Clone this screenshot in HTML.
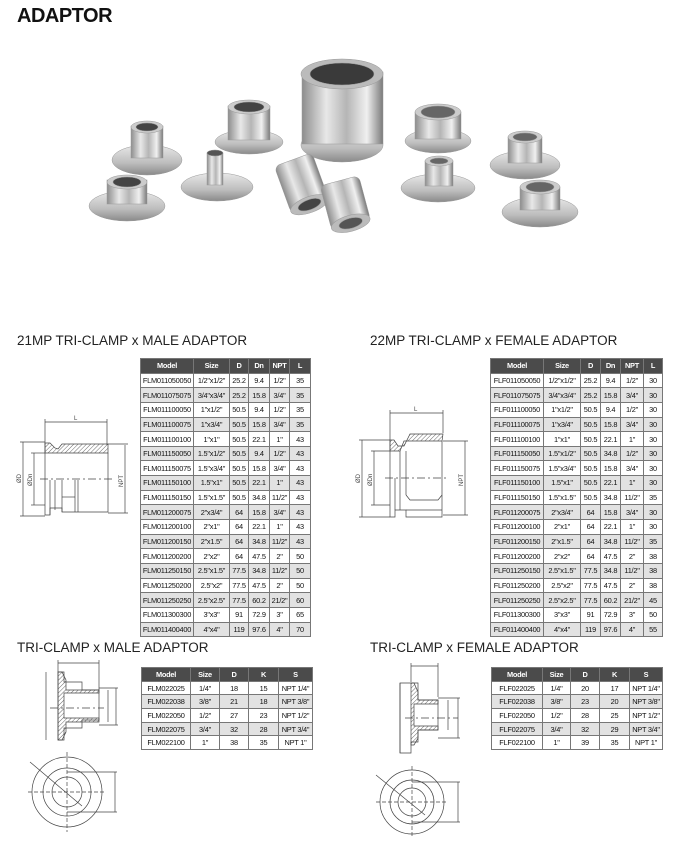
<!DOCTYPE html>
<html><head><meta charset="utf-8">
<style>
*{margin:0;padding:0;box-sizing:border-box}
body{width:691px;height:841px;background:#fff;position:relative;overflow:hidden;font-family:"Liberation Sans",sans-serif;color:#222}
.abs{position:absolute}
h1{position:absolute;left:17px;top:5px;font-size:20px;font-weight:bold;letter-spacing:-0.5px;color:#111}
.hd{position:absolute;font-size:13.5px;color:#222;white-space:nowrap;transform-origin:left top}
table{position:absolute;border-collapse:collapse;table-layout:fixed;font-size:7.4px;font-family:"Liberation Sans",sans-serif}
td,th{border:1px solid #777;text-align:center;white-space:nowrap;overflow:hidden;padding:0;letter-spacing:-0.25px}
th{background:#4b4b4b;color:#fff;font-weight:bold}
td{background:#fff;color:#111}
tr:nth-child(odd) td{background:#e2e2e2}
.big td,.big th{height:14.65px}
.sm td,.sm th{height:13.7px}
</style></head><body>
<h1>ADAPTOR</h1>

<svg class="abs" style="left:0;top:30px" width="691" height="270" viewBox="0 30 691 270">
<defs>
<linearGradient id="m" x1="0" x2="1"><stop offset="0" stop-color="#8d8d8d"/><stop offset=".3" stop-color="#e8e8e8"/><stop offset=".55" stop-color="#b5b5b5"/><stop offset=".8" stop-color="#f0f0f0"/><stop offset="1" stop-color="#7a7a7a"/></linearGradient>
<linearGradient id="f" x1="0" y1="0" x2="0" y2="1"><stop offset="0" stop-color="#e8e8e8"/><stop offset=".6" stop-color="#bdbdbd"/><stop offset="1" stop-color="#8a8a8a"/></linearGradient>
</defs>
<g stroke="#999" stroke-width=".5">
<ellipse cx="147" cy="160" rx="35" ry="15" fill="url(#f)"/><rect x="131" y="126" width="32" height="32" fill="url(#m)"/><ellipse cx="147" cy="127" rx="16" ry="6" fill="#ccc"/><ellipse cx="147" cy="127" rx="11" ry="4" fill="#444"/>
<ellipse cx="127" cy="206" rx="38" ry="15" fill="url(#f)"/><rect x="107" y="180" width="40" height="24" fill="url(#m)"/><ellipse cx="127" cy="182" rx="20" ry="7" fill="#ccc"/><ellipse cx="127" cy="182" rx="14" ry="5" fill="#444"/>
<ellipse cx="249" cy="142" rx="34" ry="12" fill="url(#f)"/><rect x="228" y="106" width="42" height="34" fill="url(#m)"/><ellipse cx="249" cy="107" rx="21" ry="7" fill="#ccc"/><ellipse cx="249" cy="107" rx="15" ry="5" fill="#444"/>
<ellipse cx="217" cy="187" rx="36" ry="14" fill="url(#f)"/><rect x="207" y="153" width="16" height="32" fill="url(#m)"/><ellipse cx="215" cy="153" rx="8" ry="3" fill="#555"/>
<ellipse cx="342" cy="145" rx="41" ry="17" fill="url(#f)"/><rect x="302" y="72" width="81" height="72" fill="url(#m)"/><ellipse cx="342" cy="74" rx="41" ry="15" fill="#bbb"/><ellipse cx="342" cy="74" rx="32" ry="11" fill="#3a3a3a"/>
<g transform="rotate(-20 302 184)"><rect x="282" y="158" width="40" height="50" rx="6" fill="url(#m)"/><ellipse cx="302" cy="206" rx="20" ry="8" fill="#bbb"/><ellipse cx="302" cy="206" rx="12" ry="5" fill="#444"/></g>
<g transform="rotate(-15 345 202)"><rect x="325" y="180" width="40" height="46" rx="6" fill="url(#m)"/><ellipse cx="345" cy="224" rx="20" ry="8" fill="#bbb"/><ellipse cx="345" cy="224" rx="12" ry="5" fill="#555"/></g>
<ellipse cx="438" cy="141" rx="33" ry="12" fill="url(#f)"/><rect x="415" y="112" width="46" height="27" fill="url(#m)"/><ellipse cx="438" cy="112" rx="23" ry="8" fill="#ccc"/><ellipse cx="438" cy="112" rx="17" ry="6" fill="#666"/>
<ellipse cx="438" cy="188" rx="37" ry="14" fill="url(#f)"/><rect x="425" y="161" width="28" height="25" fill="url(#m)"/><ellipse cx="439" cy="161" rx="14" ry="5" fill="#ccc"/><ellipse cx="439" cy="161" rx="9" ry="3" fill="#666"/>
<ellipse cx="525" cy="165" rx="35" ry="14" fill="url(#f)"/><rect x="508" y="137" width="34" height="26" fill="url(#m)"/><ellipse cx="525" cy="137" rx="17" ry="6" fill="#ccc"/><ellipse cx="525" cy="137" rx="12" ry="4" fill="#666"/>
<ellipse cx="540" cy="212" rx="38" ry="15" fill="url(#f)"/><rect x="520" y="187" width="40" height="23" fill="url(#m)"/><ellipse cx="540" cy="187" rx="20" ry="7" fill="#ccc"/><ellipse cx="540" cy="187" rx="14" ry="5" fill="#666"/>
</g>
</svg>

<div class="hd" style="left:17px;top:333px">21MP TRI-CLAMP x MALE ADAPTOR</div>
<div class="hd" style="left:370px;top:333px">22MP TRI-CLAMP x FEMALE ADAPTOR</div>
<div class="hd" style="left:17px;top:640px">TRI-CLAMP x MALE ADAPTOR</div>
<div class="hd" style="left:370px;top:640px">TRI-CLAMP x FEMALE ADAPTOR</div>

<table class="big" style="left:140px;top:358px;width:170px">
<colgroup><col style="width:53px"><col style="width:36px"><col style="width:19px"><col style="width:21px"><col style="width:20px"><col style="width:21px"></colgroup>
<tr><th>Model</th><th>Size</th><th>D</th><th>Dn</th><th>NPT</th><th>L</th></tr>
<tr><td>FLM011050050</td><td>1/2"x1/2"</td><td>25.2</td><td>9.4</td><td>1/2"</td><td>35</td></tr>
<tr><td>FLM011075075</td><td>3/4"x3/4"</td><td>25.2</td><td>15.8</td><td>3/4"</td><td>35</td></tr>
<tr><td>FLM011100050</td><td>1"x1/2"</td><td>50.5</td><td>9.4</td><td>1/2"</td><td>35</td></tr>
<tr><td>FLM011100075</td><td>1"x3/4"</td><td>50.5</td><td>15.8</td><td>3/4"</td><td>35</td></tr>
<tr><td>FLM011100100</td><td>1"x1"</td><td>50.5</td><td>22.1</td><td>1"</td><td>43</td></tr>
<tr><td>FLM011150050</td><td>1.5"x1/2"</td><td>50.5</td><td>9.4</td><td>1/2"</td><td>43</td></tr>
<tr><td>FLM011150075</td><td>1.5"x3/4"</td><td>50.5</td><td>15.8</td><td>3/4"</td><td>43</td></tr>
<tr><td>FLM011150100</td><td>1.5"x1"</td><td>50.5</td><td>22.1</td><td>1"</td><td>43</td></tr>
<tr><td>FLM011150150</td><td>1.5"x1.5"</td><td>50.5</td><td>34.8</td><td>11/2"</td><td>43</td></tr>
<tr><td>FLM011200075</td><td>2"x3/4"</td><td>64</td><td>15.8</td><td>3/4"</td><td>43</td></tr>
<tr><td>FLM011200100</td><td>2"x1"</td><td>64</td><td>22.1</td><td>1"</td><td>43</td></tr>
<tr><td>FLM011200150</td><td>2"x1.5"</td><td>64</td><td>34.8</td><td>11/2"</td><td>43</td></tr>
<tr><td>FLM011200200</td><td>2"x2"</td><td>64</td><td>47.5</td><td>2"</td><td>50</td></tr>
<tr><td>FLM011250150</td><td>2.5"x1.5"</td><td>77.5</td><td>34.8</td><td>11/2"</td><td>50</td></tr>
<tr><td>FLM011250200</td><td>2.5"x2"</td><td>77.5</td><td>47.5</td><td>2"</td><td>50</td></tr>
<tr><td>FLM011250250</td><td>2.5"x2.5"</td><td>77.5</td><td>60.2</td><td>21/2"</td><td>60</td></tr>
<tr><td>FLM011300300</td><td>3"x3"</td><td>91</td><td>72.9</td><td>3"</td><td>65</td></tr>
<tr><td>FLM011400400</td><td>4"x4"</td><td>119</td><td>97.6</td><td>4"</td><td>70</td></tr>
</table>

<table class="big" style="left:490px;top:358px;width:172px">
<colgroup><col style="width:53px"><col style="width:37px"><col style="width:20px"><col style="width:20px"><col style="width:23px"><col style="width:19px"></colgroup>
<tr><th>Model</th><th>Size</th><th>D</th><th>Dn</th><th>NPT</th><th>L</th></tr>
<tr><td>FLF011050050</td><td>1/2"x1/2"</td><td>25.2</td><td>9.4</td><td>1/2"</td><td>30</td></tr>
<tr><td>FLF011075075</td><td>3/4"x3/4"</td><td>25.2</td><td>15.8</td><td>3/4"</td><td>30</td></tr>
<tr><td>FLF011100050</td><td>1"x1/2"</td><td>50.5</td><td>9.4</td><td>1/2"</td><td>30</td></tr>
<tr><td>FLF011100075</td><td>1"x3/4"</td><td>50.5</td><td>15.8</td><td>3/4"</td><td>30</td></tr>
<tr><td>FLF011100100</td><td>1"x1"</td><td>50.5</td><td>22.1</td><td>1"</td><td>30</td></tr>
<tr><td>FLF011150050</td><td>1.5"x1/2"</td><td>50.5</td><td>34.8</td><td>1/2"</td><td>30</td></tr>
<tr><td>FLF011150075</td><td>1.5"x3/4"</td><td>50.5</td><td>15.8</td><td>3/4"</td><td>30</td></tr>
<tr><td>FLF011150100</td><td>1.5"x1"</td><td>50.5</td><td>22.1</td><td>1"</td><td>30</td></tr>
<tr><td>FLF011150150</td><td>1.5"x1.5"</td><td>50.5</td><td>34.8</td><td>11/2"</td><td>35</td></tr>
<tr><td>FLF011200075</td><td>2"x3/4"</td><td>64</td><td>15.8</td><td>3/4"</td><td>30</td></tr>
<tr><td>FLF011200100</td><td>2"x1"</td><td>64</td><td>22.1</td><td>1"</td><td>30</td></tr>
<tr><td>FLF011200150</td><td>2"x1.5"</td><td>64</td><td>34.8</td><td>11/2"</td><td>35</td></tr>
<tr><td>FLF011200200</td><td>2"x2"</td><td>64</td><td>47.5</td><td>2"</td><td>38</td></tr>
<tr><td>FLF011250150</td><td>2.5"x1.5"</td><td>77.5</td><td>34.8</td><td>11/2"</td><td>38</td></tr>
<tr><td>FLF011250200</td><td>2.5"x2"</td><td>77.5</td><td>47.5</td><td>2"</td><td>38</td></tr>
<tr><td>FLF011250250</td><td>2.5"x2.5"</td><td>77.5</td><td>60.2</td><td>21/2"</td><td>45</td></tr>
<tr><td>FLF011300300</td><td>3"x3"</td><td>91</td><td>72.9</td><td>3"</td><td>50</td></tr>
<tr><td>FLF011400400</td><td>4"x4"</td><td>119</td><td>97.6</td><td>4"</td><td>55</td></tr>
</table>

<table class="sm" style="left:141px;top:667px;width:171px">
<colgroup><col style="width:49px"><col style="width:29px"><col style="width:29px"><col style="width:30px"><col style="width:34px"></colgroup>
<tr><th>Model</th><th>Size</th><th>D</th><th>K</th><th>S</th></tr>
<tr><td>FLM022025</td><td>1/4"</td><td>18</td><td>15</td><td>NPT 1/4"</td></tr>
<tr><td>FLM022038</td><td>3/8"</td><td>21</td><td>18</td><td>NPT 3/8"</td></tr>
<tr><td>FLM022050</td><td>1/2"</td><td>27</td><td>23</td><td>NPT 1/2"</td></tr>
<tr><td>FLM022075</td><td>3/4"</td><td>32</td><td>28</td><td>NPT 3/4"</td></tr>
<tr><td>FLM022100</td><td>1"</td><td>38</td><td>35</td><td>NPT 1"</td></tr>
</table>

<table class="sm" style="left:491px;top:667px;width:171px">
<colgroup><col style="width:51px"><col style="width:28px"><col style="width:29px"><col style="width:30px"><col style="width:33px"></colgroup>
<tr><th>Model</th><th>Size</th><th>D</th><th>K</th><th>S</th></tr>
<tr><td>FLF022025</td><td>1/4"</td><td>20</td><td>17</td><td>NPT 1/4"</td></tr>
<tr><td>FLF022038</td><td>3/8"</td><td>23</td><td>20</td><td>NPT 3/8"</td></tr>
<tr><td>FLF022050</td><td>1/2"</td><td>28</td><td>25</td><td>NPT 1/2"</td></tr>
<tr><td>FLF022075</td><td>3/4"</td><td>32</td><td>29</td><td>NPT 3/4"</td></tr>
<tr><td>FLF022100</td><td>1"</td><td>39</td><td>35</td><td>NPT 1"</td></tr>
</table>

<svg class="abs" style="left:0;top:0" width="691" height="841">
<defs>
<pattern id="h" width="3" height="3" patternUnits="userSpaceOnUse" patternTransform="rotate(45)"><line x1="0" y1="0" x2="0" y2="3" stroke="#444" stroke-width=".8"/></pattern>
</defs>
<g fill="none" stroke="#444" stroke-width=".7" font-family="Liberation Sans" font-size="6">
<line x1="45" y1="422" x2="107" y2="422"/><line x1="45" y1="419" x2="45" y2="445"/><line x1="107" y1="419" x2="107" y2="445"/>
<text x="74" y="420" stroke="none" fill="#444">L</text>
<path d="M45 443 H50 L55 448 L58 449 L62 444 H108 V453 H45 Z" fill="url(#h)"/>
<path d="M45 443 V515 H50 V508 H62 V512 H108 V453"/>
<line x1="50" y1="480" x2="50" y2="515"/><line x1="55" y1="480" x2="55" y2="510"/><line x1="62" y1="480" x2="62" y2="512"/><line x1="75" y1="480" x2="75" y2="512"/><line x1="78" y1="480" x2="78" y2="512"/>
<line x1="62" y1="497" x2="75" y2="497"/>
<line x1="40" y1="479" x2="112" y2="479" stroke-dasharray="8 3 2 3"/>
<line x1="23" y1="442" x2="23" y2="516"/><line x1="20" y1="442" x2="45" y2="442"/><line x1="20" y1="516" x2="45" y2="516"/>
<line x1="34" y1="453" x2="34" y2="505"/><line x1="31" y1="453" x2="45" y2="453"/><line x1="31" y1="505" x2="45" y2="505"/>
<line x1="125" y1="445" x2="125" y2="513"/><line x1="108" y1="444" x2="128" y2="444"/><line x1="108" y1="513" x2="128" y2="513"/>
<text transform="translate(21 483) rotate(-90)" stroke="none" fill="#444">ØD</text>
<text transform="translate(32 486) rotate(-90)" stroke="none" fill="#444">ØDn</text>
<text transform="translate(123 487) rotate(-90)" stroke="none" fill="#444">NPT</text>
<line x1="390" y1="413" x2="443" y2="413"/><line x1="390" y1="410" x2="390" y2="440"/><line x1="443" y1="410" x2="443" y2="433"/>
<text x="414" y="411" stroke="none" fill="#444">L</text>
<path d="M390 440 H394 L398 446 L404 446 L410 434 H443 L442 441 H404 L400 451 H390 Z" fill="url(#h)"/>
<path d="M390 440 V517 H395 V510 H406 V517 H442 V441"/>
<line x1="395" y1="478" x2="395" y2="510"/><line x1="400" y1="451" x2="400" y2="510"/><line x1="406" y1="451" x2="406" y2="495"/>
<path d="M406 495 L410 500 H438 L442 495"/><line x1="406" y1="510" x2="442" y2="510"/>
<line x1="385" y1="478" x2="448" y2="478" stroke-dasharray="8 3 2 3"/>
<line x1="362" y1="440" x2="362" y2="517"/><line x1="359" y1="440" x2="390" y2="440"/><line x1="359" y1="517" x2="390" y2="517"/>
<line x1="374" y1="451" x2="374" y2="505"/><line x1="371" y1="451" x2="390" y2="451"/><line x1="371" y1="505" x2="390" y2="505"/>
<line x1="465" y1="441" x2="465" y2="515"/><line x1="443" y1="441" x2="468" y2="441"/><line x1="443" y1="515" x2="468" y2="515"/>
<text transform="translate(360 483) rotate(-90)" stroke="none" fill="#444">ØD</text>
<text transform="translate(372 486) rotate(-90)" stroke="none" fill="#444">ØDn</text>
<text transform="translate(463 486) rotate(-90)" stroke="none" fill="#444">NPT</text>
<line x1="58" y1="663" x2="99" y2="663"/><line x1="58" y1="660" x2="58" y2="672"/><line x1="99" y1="660" x2="99" y2="690"/>
<path d="M58 672 V740 H64 V728 H82 V720 H99 V690 H82 V682 H64 V672 Z"/>
<path d="M58 672 H62 L66 680 V690 H99 V693 H64 V718 H99 V722 H66 V732 L62 740 H58 Z" fill="url(#h)"/>
<line x1="50" y1="708" x2="104" y2="708" stroke-dasharray="8 3 2 3"/>
<line x1="46" y1="672" x2="46" y2="740"/><line x1="108" y1="690" x2="108" y2="722"/><line x1="116" y1="688" x2="116" y2="725"/>
<line x1="99" y1="688" x2="118" y2="688"/><line x1="99" y1="725" x2="118" y2="725"/>
<circle cx="67" cy="792" r="35"/><circle cx="67" cy="792" r="24"/><circle cx="67" cy="792" r="15"/>
<line x1="28" y1="792" x2="106" y2="792" stroke-dasharray="4 2"/><line x1="67" y1="752" x2="67" y2="832" stroke-dasharray="4 2"/>
<line x1="30" y1="762" x2="82" y2="806"/>
<line x1="67" y1="772" x2="117" y2="772"/><line x1="67" y1="812" x2="117" y2="812"/><line x1="115" y1="772" x2="115" y2="812"/>
<line x1="411" y1="666" x2="438" y2="666"/><line x1="411" y1="663" x2="411" y2="682"/><line x1="438" y1="663" x2="438" y2="697"/>
<path d="M400 683 V753 H411 V742 H418 V730 H438 V700 H418 V683 Z"/>
<path d="M411 683 H414 L418 692 V700 H438 V704 H414 V726 H438 V730 H418 V738 L414 745 H411 Z" fill="url(#h)"/>
<line x1="405" y1="718" x2="458" y2="718" stroke-dasharray="8 3 2 3"/>
<line x1="400" y1="683" x2="400" y2="753"/><line x1="448" y1="700" x2="448" y2="730"/><line x1="458" y1="698" x2="458" y2="738"/>
<line x1="438" y1="698" x2="460" y2="698"/><line x1="438" y1="738" x2="460" y2="738"/>
<circle cx="412" cy="802" r="32"/><circle cx="412" cy="802" r="22"/><circle cx="412" cy="802" r="14"/>
<line x1="376" y1="802" x2="448" y2="802" stroke-dasharray="4 2"/><line x1="412" y1="766" x2="412" y2="838" stroke-dasharray="4 2"/>
<line x1="376" y1="775" x2="425" y2="815"/>
<line x1="412" y1="782" x2="460" y2="782"/><line x1="412" y1="822" x2="460" y2="822"/><line x1="458" y1="782" x2="458" y2="822"/>
</g>
</svg>
</body></html>
